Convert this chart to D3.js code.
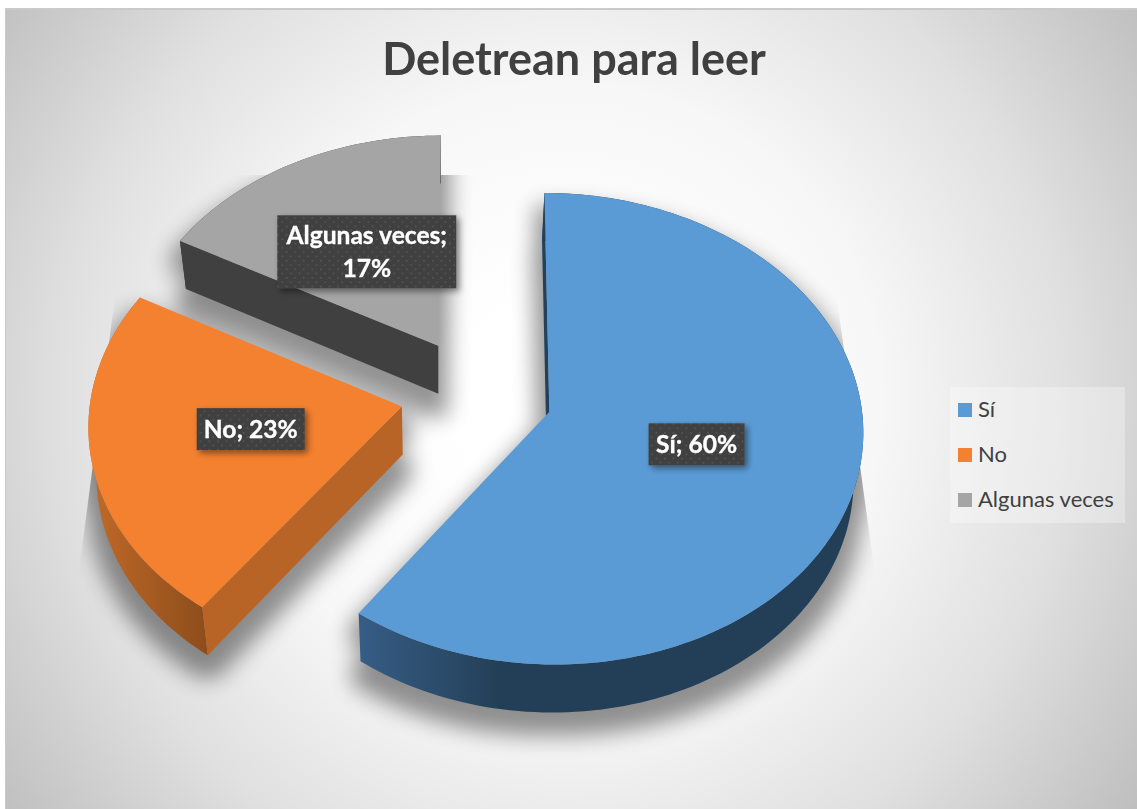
<!DOCTYPE html>
<html><head><meta charset="utf-8">
<script src="https://cdn.jsdelivr.net/npm/d3@7"></script>
<style>html,body{margin:0;padding:0;background:#fff}svg{display:block}text{font-family:"Lato",sans-serif}</style>
</head><body><svg id="c" width="1137" height="809"></svg>
<script>
const title = "Deletrean para leer";
const categories = ["Sí", "No", "Algunas veces"];
const values = [60, 23, 17];
const colors = ["#5b9bd5", "#f4812f", "#a5a5a5"];
const labelLines = [["Sí; 60%"], ["No; 23%"], ["Algunas veces;", "17%"]];

const W = 1137, H = 809;
const svg = d3.select("#c");
const defs = svg.append("defs");

// pseudo-3D projection of the unit pie plane
const P = {x0: 476.5, y0: 394, a: 232, b: 311, k: 0.072, depth: 48, xv: 440, sb: 0.977, explode: 0.245};
const project = (u, v) => { const d = 1 + P.k * v; return [P.x0 + P.b * u / d, P.y0 - P.a * v / d]; };
const drop = ([x, y]) => [P.xv + (x - P.xv) * P.sb, y + P.depth];

const pie = d3.pie().sort(null).value(d => d);
const arcs = pie(values);
const color = d3.scaleOrdinal().domain(categories).range(colors);

const slices = arcs.map((s, i) => {
  const mid = (s.startAngle + s.endAngle) / 2;
  const ou = P.explode * Math.sin(mid), ov = P.explode * Math.cos(mid);
  const n = Math.ceil((s.endAngle - s.startAngle) * 40);
  const rim = d3.range(n + 1).map(j => {
    const t = s.startAngle + (s.endAngle - s.startAngle) * j / n;
    return project(ou + Math.sin(t), ov + Math.cos(t));
  });
  return {i, mid, ou, ov, apex: project(ou, ov), rim, cat: categories[i]};
});
const line = d3.line();

// background
const bg = defs.append("radialGradient").attr("id", "bg").attr("gradientUnits", "userSpaceOnUse")
  .attr("cx", 565).attr("cy", 400).attr("r", 700);
[[0.15, "#ffffff"], [0.45, "#f7f7f7"], [0.72, "#e0e0e0"], [1, "#bfbfbf"]].forEach(([o, c]) =>
  bg.append("stop").attr("offset", o).attr("stop-color", c));
svg.append("rect").attr("x", 5).attr("y", 8).attr("width", W - 5).attr("height", H - 8).attr("fill", "#bdbdbd").attr("opacity", .8);
svg.append("rect").attr("x", 6).attr("y", 10).attr("width", W - 6).attr("height", H - 10).attr("fill", "url(#bg)");

// shadow
const sf = defs.append("filter").attr("id", "sh").attr("x", "-30%").attr("y", "-30%").attr("width", "160%").attr("height", "160%");
sf.append("feMorphology").attr("operator", "dilate").attr("radius", 9).attr("result", "m");
sf.append("feGaussianBlur").attr("in", "m").attr("stdDeviation", 11);
defs.append("clipPath").attr("id", "shc").append("path")
  .attr("d", line([[131, 175], [820, 175], [895, 720], [950, 809], [0, 809], [62, 700]]) + "Z");
const sg = svg.append("g").attr("clip-path", "url(#shc)").append("g").attr("filter", "url(#sh)").attr("opacity", .42);
slices.forEach(s => {
  const pts = [s.apex, ...s.rim];
  const low = pts.map(drop);
  sg.append("path").attr("d", line(pts) + "Z").attr("transform", "translate(0,22)").attr("fill", "#000");
  sg.append("path").attr("d", line(low) + "Z").attr("transform", "translate(0,14)").attr("fill", "#000");
});

// side wall gradients
const wallStops = [
  [[360, 500], ["#365d85", "#233f57"]],
  [[90, 206], ["#c06a28", "#8d4d1b"]],
  [[180, 440], ["#404040", "#404040"]]
];
const radialWall = ["#24415c", "#b86426", "#404040"];
wallStops.forEach(([xs, cs], i) => {
  const g = defs.append("linearGradient").attr("id", "w" + i).attr("gradientUnits", "userSpaceOnUse")
    .attr("x1", xs[0]).attr("x2", xs[1]).attr("y1", 0).attr("y2", 0);
  g.append("stop").attr("offset", 0).attr("stop-color", cs[0]);
  g.append("stop").attr("offset", 1).attr("stop-color", cs[1]);
});

// slices, back to front
[2, 1, 0].forEach(i => {
  const s = slices[i], g = svg.append("g").attr("class", "slice");
  const a = s.rim[0];
  const wall = d3.line()([...s.rim, ...s.rim.map(drop).reverse()]) + "Z";
  g.append("path").attr("d", wall).attr("fill", `url(#w${i})`);
  g.append("path").attr("d", line([s.apex, a, drop(a), drop(s.apex)]) + "Z").attr("fill", radialWall[i]);
  g.append("path").attr("d", line([s.apex, ...s.rim]) + "Z").attr("fill", color(s.cat));
});

// labels
const dots = defs.append("pattern").attr("id", "dots").attr("patternUnits", "userSpaceOnUse").attr("width", 8.6).attr("height", 8.6);
dots.append("rect").attr("width", 8.6).attr("height", 8.6).attr("fill", "#404040");
[[2, 2], [6.3, 6.3]].forEach(([x, y]) => dots.append("rect").attr("x", x).attr("y", y).attr("width", 1.4).attr("height", 1.4).attr("fill", "#5e5e5e"));
const ds = defs.append("filter").attr("id", "ls").attr("x", "-20%").attr("y", "-30%").attr("width", "140%").attr("height", "170%");
ds.append("feDropShadow").attr("dx", 3).attr("dy", 3).attr("stdDeviation", 3).attr("flood-color", "#000").attr("flood-opacity", .45);

const labelR = 0.5;
const labelBox = [[96, 42], [108, 42], [179, 73]];
const labelNudge = [[-4, -4], [3, -3], [3, 0]];
slices.forEach(s => {
  const [cx, cy] = project(s.ou + labelR * Math.sin(s.mid), s.ov + labelR * Math.cos(s.mid));
  const x = cx + labelNudge[s.i][0], y = cy + labelNudge[s.i][1];
  const [bw, bh] = labelBox[s.i];
  const g = svg.append("g");
  g.append("rect").attr("x", x - bw / 2).attr("y", y - bh / 2).attr("width", bw).attr("height", bh)
    .attr("fill", "url(#dots)").attr("filter", "url(#ls)");
  const ls = labelLines[s.i];
  ls.forEach((t, j) => g.append("text").attr("x", x).attr("y", y + (j - (ls.length - 1) / 2) * 33)
    .attr("dy", "0.36em").attr("text-anchor", "middle").attr("fill", "#fff")
    .attr("stroke", "#fff").attr("stroke-width", 0.35)
    .attr("font-size", 24.6).attr("font-weight", 700).text(t));
});

// title
svg.append("text").attr("x", 574).attr("y", 75).attr("text-anchor", "middle")
  .attr("font-size", 45).attr("font-weight", 700).attr("fill", "#404040").text(title);

// legend
svg.append("rect").attr("x", 950).attr("y", 387).attr("width", 175).attr("height", 136).attr("fill", "#fff").attr("opacity", .3);
const ly = d3.scalePoint().domain(categories).range([410, 500]);
categories.forEach(c => {
  svg.append("rect").attr("x", 958).attr("y", ly(c) - 7).attr("width", 14).attr("height", 14).attr("fill", color(c));
  svg.append("text").attr("x", 978).attr("y", ly(c) - 1).attr("dy", "0.36em").attr("font-size", 22).attr("fill", "#404040").text(c);
});
</script></body></html>
